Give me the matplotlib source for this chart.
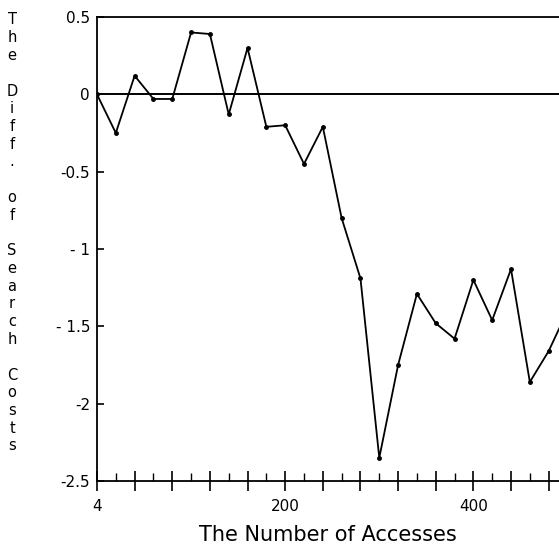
import numpy as np
import matplotlib.pyplot as plt
from matplotlib.ticker import FixedLocator, FixedFormatter

plt.rcParams['font.family'] = ['DejaVu Sans']

# Datos
accesses = [0, 20, 40, 60, 80, 100, 120, 140, 160, 180, 200, 220, 240,
            260, 280, 300, 320, 340, 360, 380, 400, 420, 440, 460, 480, 500]
diff_cost = [0.0, -0.25, 0.12, -0.03, -0.03, 0.40, 0.39, -0.13, 0.30,
             -0.21, -0.20, -0.45, -0.21, -0.80, -1.19, -2.35, -1.75,
             -1.29, -1.48, -1.58, -1.20, -1.46, -1.13, -1.86, -1.66, -1.40]
xmajor = [0, 40, 80, 120, 160, 200, 240, 280, 320, 360, 400, 440, 480]
xmajor_labels = ["4", "", "", "", "", "200", "", "", "", "", "400", "", ""]
xminor = [20, 60, 100, 140, 180, 220, 260, 300, 340, 380, 420, 460]
ytick_pos = [0.5, 0, -0.5, -1, -1.5, -2, -2.5]
ytick_labels = ["0.5", "0", "-0.5", "- 1", "- 1.5", "-2", "-2.5"]
ylabel = "The Diff. of Search Costs"

fig = plt.figure(figsize=(5.59, 5.57), dpi=100)
ax = fig.add_axes([0.1735, 0.1364, 0.8265, 0.8331])

ax.axhline(0, color="black", linewidth=1.4)
ax.plot(accesses, diff_cost, color="black", linewidth=1.3,
        marker="o", markersize=2.5)

ax.set_xlim(0, 491)
ax.set_ylim(-2.5, 0.5)
ax.spines["right"].set_visible(False)
for s in ["left", "bottom", "top"]:
    ax.spines[s].set_linewidth(1.3)

ax.xaxis.set_major_locator(FixedLocator(xmajor))
ax.xaxis.set_major_formatter(FixedFormatter(xmajor_labels))
ax.xaxis.set_minor_locator(FixedLocator(xminor))
ax.tick_params(axis="x", which="major", direction="inout", length=14, width=1.2,
               pad=6, labelsize=11)
ax.tick_params(axis="x", which="minor", direction="in", length=6, width=1)

ax.set_yticks(ytick_pos)
ax.set_yticklabels(ytick_labels)
ax.tick_params(axis="y", direction="in", length=5, width=1.2, pad=5, labelsize=11)

ax.set_xlabel("The Number of Accesses", fontsize=15, labelpad=8)

# etiqueta vertical, letra por letra
step = 17.75 / 557
for i, ch in enumerate(ylabel):
    fig.text(0.0215, 1 - 20 / 557 - i * step, ch, fontsize=10.5,
             ha="center", va="center")

plt.savefig("out.png", dpi=100)
